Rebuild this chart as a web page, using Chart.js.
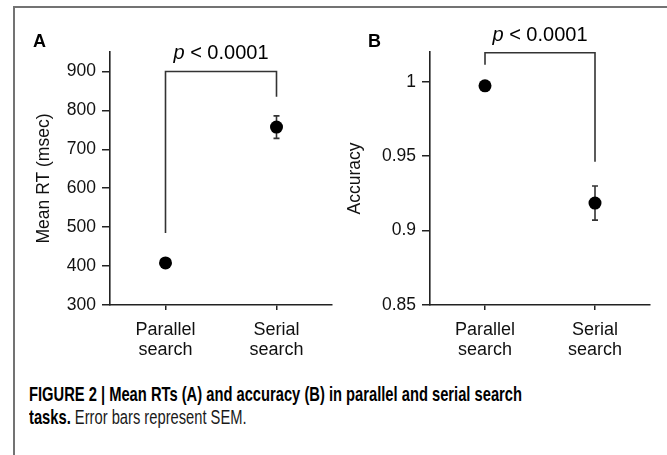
<!DOCTYPE html>
<html><head><meta charset="utf-8">
<script src="https://cdn.jsdelivr.net/npm/chart.js@4/dist/chart.umd.min.js"></script>
<style>
html,body{margin:0;padding:0;background:#fff;}
body{width:667px;height:455px;position:relative;overflow:hidden;font-family:"Liberation Sans",Arial,sans-serif;}
#frame{position:absolute;left:13px;top:6px;width:700px;height:500px;border-top:2px solid #737373;border-left:2px solid #737373;}
canvas{position:absolute;top:0;}
#ca{left:0;}
#cb{left:333px;}
.panel{position:absolute;top:31px;font:bold 18px "Liberation Sans",Arial,sans-serif;color:#000;}
.cap{position:absolute;left:29px;white-space:nowrap;transform-origin:0 0;font-family:"Liberation Sans Narrow","Liberation Sans",Arial,sans-serif;font-size:20.5px;line-height:1;color:#1a1a1a;}
.cap b{color:#000;}
</style></head>
<body>
<div id="frame"></div>
<canvas id="ca" width="345" height="370"></canvas>
<canvas id="cb" width="334" height="370"></canvas>
<div class="panel" style="left:33px">A</div>
<div class="panel" style="left:368px">B</div>
<div class="cap" id="cap1" style="top:384px"><b>FIGURE 2 | Mean RTs (A) and accuracy (B) in parallel and serial search</b></div>
<div class="cap" id="cap2" style="top:407px"><b>tasks.</b> Error bars represent SEM.</div>
<script>
// ---- data ----
const categories = [["Parallel", "search"], ["Serial", "search"]];
const rtMeans = [408, 757];
const rtSems = [4, 29];
const accMeans = [0.9973, 0.9185];
const accSems = [0.001, 0.0115];
const rtBracket = [485, 900, 900, 835];
const accBracket = [1.0114, 1.0195, 1.0195, 0.9462];
const pLabel = "p";
const pRest = " < 0.0001";
const rtTicks = [300, 400, 500, 600, 700, 800, 900];
const accTicks = [0.85, 0.9, 0.95, 1];

const FONT = '"Liberation Sans", Arial, sans-serif';
const AX = '#222';

const annot = {
  id: 'annot',
  beforeDatasetsDraw(chart, args, o) {
    const {ctx, scales: {x, y}} = chart;
    ctx.save();
    ctx.strokeStyle = '#333';
    ctx.lineWidth = 1.6;
    o.means.forEach((m, i) => {
      const e = o.sems[i];
      const px = x.getPixelForValue(i);
      const t = y.getPixelForValue(m + e), b = y.getPixelForValue(m - e);
      ctx.beginPath();
      ctx.moveTo(px, t); ctx.lineTo(px, b);
      ctx.moveTo(px - 3, t); ctx.lineTo(px + 3, t);
      ctx.moveTo(px - 3, b); ctx.lineTo(px + 3, b);
      ctx.stroke();
    });
    ctx.restore();
  },
  afterDraw(chart, args, o) {
    const {ctx, scales: {x, y}} = chart;
    ctx.save();
    const cx = x.getPixelForValue(0.5);
    const by = y.getPixelForValue(o.top) - o.gap;
    ctx.fillStyle = '#000';
    ctx.textBaseline = 'alphabetic';
    ctx.font = 'italic 20px ' + FONT;
    const w1 = ctx.measureText(pLabel).width;
    ctx.font = '20px ' + FONT;
    const w2 = ctx.measureText(pRest).width;
    let sx = cx - (w1 + w2) / 2;
    ctx.font = 'italic 20px ' + FONT;
    ctx.fillText(pLabel, sx, by);
    ctx.font = '20px ' + FONT;
    ctx.fillText(pRest, sx + w1, by);
    ctx.restore();
  }
};

function makeChart(id, means, sems, bracket, yMin, yMax, yStep, yTitle, yWidth, titlePad, padRight, tickFmt, tickLen, tickPad) {
  const pts = means.map((v, i) => ({x: i, y: v}));
  const br = bracket.map((v, i) => ({x: i < 2 ? 0 : 1, y: v}));
  return new Chart(document.getElementById(id), {
    type: 'scatter',
    data: {
      datasets: [
        {data: br, showLine: true, borderColor: '#333', borderWidth: 1.6, pointRadius: 0, fill: false, tension: 0},
        {data: pts, pointRadius: 6.5, pointBackgroundColor: '#000', pointBorderColor: '#000', borderWidth: 0, pointBorderWidth: 0, showLine: false}
      ]
    },
    options: {
      responsive: false,
      animation: false,
      devicePixelRatio: 1,
      layout: {padding: {top: 52, right: padRight, left: 0, bottom: 0}},
      plugins: {
        legend: {display: false},
        tooltip: {enabled: false},
        annot: {means: means, sems: sems, top: bracket[1], gap: 12}
      },
      scales: {
        x: {
          type: 'linear', min: -0.5, max: 1.5,
          afterBuildTicks: s => { s.ticks = [{value: 0}, {value: 1}]; },
          afterFit: s => { s.height = 65; },
          grid: {display: true, drawOnChartArea: false, drawTicks: true, tickLength: 5, color: AX, lineWidth: 1.5},
          border: {display: true, color: AX, width: 1.6},
          ticks: {
            autoSkip: false, maxRotation: 0, padding: 10, color: '#111',
            font: {family: FONT, size: 18, lineHeight: 1.12},
            callback: v => categories[v]
          }
        },
        y: {
          type: 'linear', min: yMin, max: yMax,
          afterFit: s => { s.width = yWidth; },
          grid: {display: true, drawOnChartArea: false, drawTicks: true, tickLength: tickLen, color: AX, lineWidth: 1.5},
          border: {display: true, color: AX, width: 1.6},
          ticks: {stepSize: yStep, includeBounds: false, padding: tickPad, color: '#111',
            font: {family: FONT, size: 17.5}, callback: tickFmt},
          title: {display: true, text: yTitle, color: '#111', font: {family: FONT, size: 17.5}, padding: {top: titlePad, bottom: 0}}
        }
      }
    },
    plugins: [annot]
  });
}

makeChart('ca', rtMeans, rtSems, rtBracket, 300, 950, 100, 'Mean RT (msec)', 110, 34, 13,
  v => rtTicks.includes(Math.round(v)) ? String(Math.round(v)) : '', 8, 6);
makeChart('cb', accMeans, accSems, accBracket, 0.85, 1.02, 0.05, 'Accuracy', 97, 12, 17,
  v => { const r = Math.round(v * 100) / 100; return accTicks.includes(r) ? String(r) : ''; }, 8, 6);

// fit caption width to reference line length
const c1 = document.getElementById('cap1'), c2 = document.getElementById('cap2');
const sc = 493 / c1.getBoundingClientRect().width;
c1.style.transform = 'scaleX(' + sc + ')';
c2.style.transform = 'scaleX(' + sc + ')';
</script>
</body></html>
